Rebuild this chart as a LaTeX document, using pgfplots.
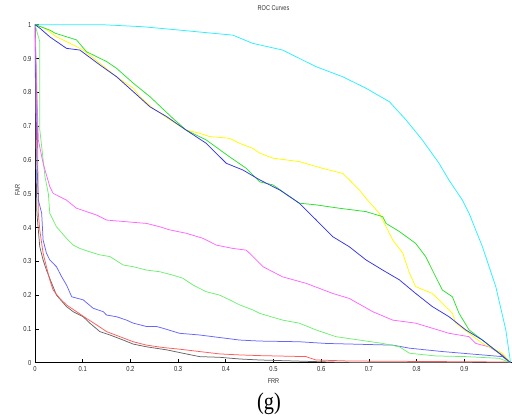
\documentclass[border=0pt]{standalone}
\usepackage{fontspec}
\setmainfont{Liberation Sans}[FakeStretch=0.8]
\newfontfamily\capfont{Liberation Serif}[FakeStretch=0.85]
\usepackage{pgfplots}
\pgfplotsset{compat=1.18}
\definecolor{ccyan}{RGB}{40,240,255}
\definecolor{cgreen}{RGB}{40,225,40}
\definecolor{cyellow}{RGB}{255,250,0}
\definecolor{cblue}{RGB}{50,50,230}
\definecolor{cmag}{RGB}{255,100,255}
\definecolor{clgreen}{RGB}{110,240,110}
\definecolor{clblue}{RGB}{100,100,255}
\definecolor{cred}{RGB}{255,90,90}
\definecolor{cgray}{RGB}{100,100,100}
\begin{document}
\begin{tikzpicture}
\begin{axis}[name=ax, at={(0,0)}, anchor=south west,
  scale only axis, width=477bp, height=338bp,
  xmin=0, xmax=1, ymin=0, ymax=1,
  axis x line*=bottom, axis y line*=left,
  axis line style={black, line width=0.9pt},
  tick align=inside, major tick length=4bp,
  tick style={black, line width=0.8pt},
  xtick={0,0.1,0.2,0.3,0.4,0.5,0.6,0.7,0.8,0.9},
  ytick={0,0.1,0.2,0.3,0.4,0.5,0.6,0.7,0.8,0.9,1},
  /pgf/number format/assume math mode=true,
  tick label style={font=\fontsize{7.3}{8}\selectfont, text=black!85},
  title={ROC Curves},
  title style={at={(axis description cs:0.5,1)}, anchor=center, yshift=10.7bp, font=\fontsize{7}{8}\selectfont, text=black!80},
  xlabel={FRR},
  xlabel style={at={(axis description cs:0.5,0)}, anchor=center, yshift=-18bp, font=\fontsize{7}{8}\selectfont, text=black!80},
  ylabel={FAR},
  ylabel style={at={(axis description cs:0,0.511)}, anchor=center, rotate=0, yshift=17.5bp, font=\fontsize{7}{8}\selectfont, text=black!80},
  every axis plot/.append style={line width=0.75pt},
  clip=true,
]
% cyan
\addplot[ccyan] coordinates {(0,1) (0.14,1.0) (0.226,0.994) (0.303,0.984) (0.415,0.969) (0.456,0.945) (0.519,0.925) (0.589,0.876) (0.645,0.846) (0.694,0.812) (0.743,0.772) (0.778,0.718) (0.812,0.659) (0.847,0.590) (0.868,0.54) (0.896,0.481) (0.910,0.442) (0.938,0.343) (0.966,0.225) (0.987,0.097) (0.997,0)};
% gray
\addplot[cgray] coordinates {(0,1) (0.002,0.6) (0.004,0.442) (0.01,0.343) (0.017,0.304) (0.024,0.274) (0.035,0.235) (0.045,0.2) (0.066,0.166) (0.08,0.151) (0.101,0.136) (0.115,0.117) (0.136,0.092) (0.157,0.082) (0.185,0.067) (0.206,0.055) (0.234,0.047) (0.276,0.038) (0.317,0.026) (0.345,0.018) (0.387,0.016) (0.429,0.011) (0.471,0.008) (0.645,0.001) (0.997,0)};
% red
\addplot[cred] coordinates {(0,1) (0.005,0.7) (0.007,0.442) (0.01,0.393) (0.017,0.324) (0.024,0.284) (0.031,0.245) (0.038,0.215) (0.052,0.19) (0.066,0.171) (0.087,0.151) (0.108,0.131) (0.129,0.112) (0.15,0.092) (0.178,0.077) (0.206,0.062) (0.234,0.052) (0.268,0.045) (0.303,0.04) (0.345,0.033) (0.387,0.026) (0.429,0.023) (0.471,0.021) (0.568,0.018) (0.589,0.008) (0.659,0.005) (0.997,0.002)};
% light blue
\addplot[clblue] coordinates {(0,1) (0.004,0.6) (0.007,0.481) (0.014,0.442) (0.017,0.363) (0.024,0.324) (0.031,0.304) (0.045,0.284) (0.056,0.254) (0.066,0.23) (0.077,0.195) (0.101,0.186) (0.122,0.161) (0.143,0.151) (0.15,0.141) (0.171,0.136) (0.192,0.126) (0.206,0.117) (0.234,0.107) (0.255,0.107) (0.268,0.102) (0.303,0.087) (0.345,0.082) (0.373,0.077) (0.401,0.072) (0.429,0.067) (0.471,0.064) (0.554,0.062) (0.61,0.057) (0.694,0.054) (0.75,0.052) (0.785,0.043) (0.819,0.038) (0.854,0.033) (0.896,0.028) (0.938,0.023) (0.98,0.018) (0.997,0)};
% light green
\addplot[clgreen] coordinates {(0,1) (0.01,0.95) (0.01,0.69) (0.021,0.55) (0.028,0.5) (0.031,0.442) (0.045,0.402) (0.066,0.368) (0.08,0.348) (0.094,0.338) (0.115,0.328) (0.136,0.319) (0.157,0.314) (0.185,0.289) (0.206,0.284) (0.234,0.274) (0.262,0.269) (0.289,0.259) (0.31,0.25) (0.331,0.23) (0.359,0.21) (0.387,0.2) (0.408,0.186) (0.429,0.171) (0.457,0.156) (0.471,0.146) (0.519,0.126) (0.554,0.117) (0.589,0.097) (0.631,0.077) (0.68,0.067) (0.729,0.057) (0.764,0.047) (0.785,0.028) (0.84,0.02) (0.903,0.018) (0.973,0.013) (0.997,0)};
% magenta
\addplot[cmag] coordinates {(0,1) (0.005,0.75) (0.007,0.659) (0.017,0.59) (0.031,0.521) (0.038,0.501) (0.066,0.481) (0.087,0.457) (0.108,0.447) (0.129,0.437) (0.15,0.422) (0.192,0.417) (0.234,0.412) (0.262,0.402) (0.282,0.393) (0.317,0.383) (0.352,0.368) (0.38,0.348) (0.415,0.338) (0.443,0.333) (0.457,0.314) (0.478,0.284) (0.519,0.254) (0.568,0.235) (0.624,0.205) (0.659,0.19) (0.708,0.151) (0.75,0.126) (0.798,0.117) (0.833,0.102) (0.868,0.087) (0.91,0.077) (0.924,0.057) (0.952,0.047) (0.98,0.023) (0.997,0)};
% yellow
\addplot[cyellow] coordinates {(0,1) (0.02,0.99) (0.045,0.964) (0.059,0.955) (0.101,0.925) (0.136,0.886) (0.171,0.846) (0.206,0.812) (0.22,0.787) (0.247,0.753) (0.289,0.713) (0.317,0.688) (0.345,0.679) (0.366,0.669) (0.408,0.664) (0.429,0.649) (0.457,0.634) (0.471,0.62) (0.499,0.605) (0.554,0.595) (0.603,0.575) (0.645,0.56) (0.659,0.541) (0.68,0.511) (0.697,0.481) (0.722,0.442) (0.736,0.402) (0.75,0.363) (0.771,0.324) (0.785,0.265) (0.798,0.225) (0.833,0.205) (0.854,0.176) (0.875,0.146) (0.882,0.117) (0.91,0.087) (0.938,0.057) (0.98,0.028) (0.997,0)};
% green
\addplot[cgreen] coordinates {(0,1) (0.01,0.995) (0.031,0.984) (0.042,0.975) (0.087,0.955) (0.108,0.92) (0.15,0.891) (0.171,0.871) (0.206,0.827) (0.241,0.787) (0.289,0.723) (0.317,0.688) (0.359,0.659) (0.408,0.609) (0.443,0.575) (0.471,0.535) (0.499,0.526) (0.554,0.472) (0.589,0.467) (0.638,0.457) (0.694,0.447) (0.729,0.432) (0.736,0.412) (0.764,0.388) (0.798,0.353) (0.819,0.314) (0.833,0.274) (0.854,0.215) (0.875,0.195) (0.889,0.146) (0.910,0.097) (0.938,0.067) (0.973,0.028) (0.997,0)};
% blue
\addplot[cblue] coordinates {(0,1) (0.01,0.99) (0.031,0.964) (0.066,0.93) (0.094,0.925) (0.136,0.881) (0.171,0.846) (0.206,0.802) (0.241,0.757) (0.276,0.728) (0.317,0.688) (0.359,0.649) (0.401,0.59) (0.436,0.57) (0.471,0.541) (0.513,0.511) (0.554,0.472) (0.589,0.423) (0.624,0.373) (0.659,0.343) (0.694,0.304) (0.729,0.274) (0.764,0.245) (0.798,0.205) (0.833,0.166) (0.868,0.136) (0.903,0.097) (0.938,0.067) (0.973,0.028) (0.997,0)};
\end{axis}
\node[font=\capfont\fontsize{24}{24}\selectfont, anchor=center] at ([xshift=-4.5bp, yshift=-41.3bp]ax.south) {(g)};
\pgfresetboundingbox
\path ([xshift=-35bp, yshift=-53.3bp]ax.south west) rectangle ([yshift=24.7bp]ax.north east);
\end{tikzpicture}
\end{document}
